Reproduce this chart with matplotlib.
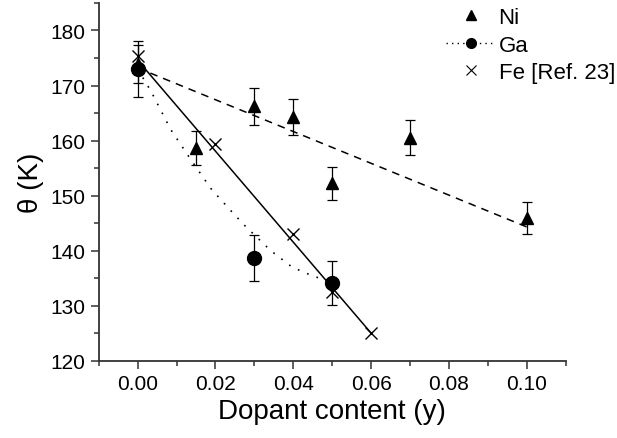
import numpy as np
import matplotlib
matplotlib.use("Agg")
import matplotlib.pyplot as plt
from matplotlib.lines import Line2D
from matplotlib.ticker import MultipleLocator

plt.rcParams['font.family'] = ['Liberation Sans', 'DejaVu Sans']

# Ni (triangles)
ni_x = [0.0, 0.015, 0.03, 0.04, 0.05, 0.07, 0.10]
ni_y = [173.9, 158.7, 166.2, 164.3, 152.2, 160.5, 146.0]
ni_err = [3.4, 3.1, 3.3, 3.3, 3.0, 3.2, 2.9]
ni_fit_x = [0.0, 0.10]
ni_fit_y = [173.2, 144.3]

# Ga (circles)
ga_x = [0.0, 0.03, 0.05]
ga_y = [173.0, 138.7, 134.2]
ga_err = [5.0, 4.2, 4.0]
ga_curve_x = [0.0, 0.0034, 0.0085, 0.0137, 0.0188, 0.0235, 0.0273, 0.0342, 0.0397, 0.0453, 0.05]
ga_curve_y = [173.0, 169.0, 162.0, 156.5, 151.3, 147.6, 144.7, 140.0, 137.0, 135.3, 134.4]

# Fe [Ref. 23] (crosses)
fe_x = [0.0, 0.02, 0.04, 0.05, 0.06]
fe_y = [175.3, 159.3, 143.0, 132.5, 125.1]
fe_fit_x = [0.0, 0.06]
fe_fit_y = [174.6, 125.0]

fig = plt.figure(figsize=(6.17, 4.39), dpi=100)
ax = fig.add_axes([0.16, 0.176, 0.757, 0.815])

ax.plot(ni_fit_x, ni_fit_y, color='black', lw=1.1, ls=(0, (5, 4)))
ax.plot(fe_fit_x, fe_fit_y, color='black', lw=1.1, ls='-')
ax.plot(ga_curve_x, ga_curve_y, color='black', lw=1.2, ls=(0, (1, 5)))

ax.errorbar(ni_x, ni_y, yerr=ni_err, fmt='^', color='black', ms=9,
            capsize=3.5, elinewidth=0.9, capthick=0.9)
ax.errorbar(ga_x, ga_y, yerr=ga_err, fmt='o', color='black', ms=10,
            capsize=3.5, elinewidth=0.9, capthick=0.9)
ax.plot(fe_x, fe_y, 'x', color='black', ms=9, mew=1.0)

ax.set_xlim(-0.01, 0.11)
ax.set_ylim(120, 185)
ax.xaxis.set_major_locator(MultipleLocator(0.02))
ax.xaxis.set_minor_locator(MultipleLocator(0.01))
ax.yaxis.set_major_locator(MultipleLocator(10))
ax.yaxis.set_minor_locator(MultipleLocator(5))
ax.xaxis.set_major_formatter(matplotlib.ticker.FormatStrFormatter('%.2f'))
ax.set_yticks([120, 130, 140, 150, 160, 170, 180])

for s in ['top', 'right']:
    ax.spines[s].set_visible(False)
for s in ['left', 'bottom']:
    ax.spines[s].set_color('#333333')
    ax.spines[s].set_linewidth(1.3)

ax.tick_params(which='major', direction='out', length=6, width=1.1, labelsize=15, color='#333333')
ax.tick_params(which='minor', direction='out', length=3.5, width=1.1, color='#333333')

ax.set_xlabel('Dopant content (y)', fontsize=20, labelpad=4)
ax.set_ylabel('θ (K)', fontsize=20, labelpad=5)

handles = [
    Line2D([], [], marker='^', ls='none', color='black', ms=7),
    Line2D([], [], marker='o', ls=(0, (1, 3)), color='black', ms=7, lw=1.0),
    Line2D([], [], marker='x', ls='none', color='black', ms=7, mew=0.8),
]
ax.legend(handles, ['Ni', 'Ga', 'Fe [Ref. 23]'], loc='upper right',
          bbox_to_anchor=(1.148, 1.045), frameon=False, fontsize=16,
          handlelength=2.2, handletextpad=0.15, labelspacing=0.3)

fig.savefig('out.png', dpi=100)
